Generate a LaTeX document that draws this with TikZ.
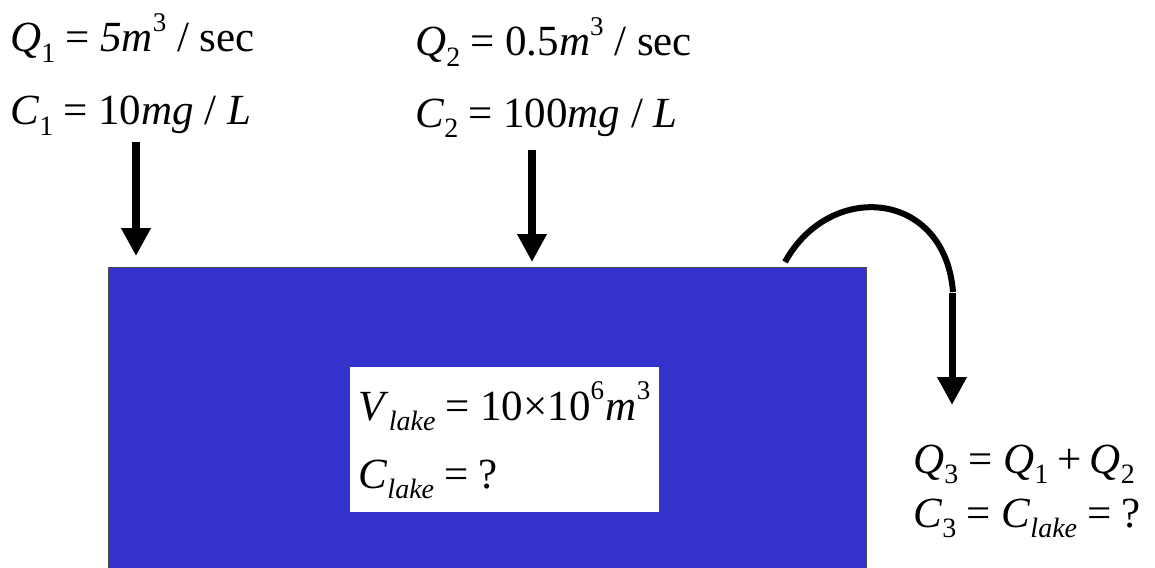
\documentclass[tikz,border=0pt]{standalone}
\usepackage{fontspec}
\setmainfont{Liberation Serif}
\usetikzlibrary{arrows.meta}
\definecolor{lakeblue}{RGB}{51,51,204}
\newcommand\sbs[1]{\raisebox{-0.24em}{\fontsize{14}{14}\selectfont #1}}
\newcommand\sps[1]{\raisebox{0.48em}{\fontsize{13.5}{14}\selectfont #1}}
\newcommand\iv[1]{\textit{#1}}
\newcommand\eqs{\hspace{0.24em}=\hspace{0.24em}}
\newcommand\pls{\hspace{0.2em}+\hspace{0.2em}}
\begin{document}
\begin{tikzpicture}[x=0.5pt,y=-0.5pt,
  lbl/.style={inner sep=0pt,anchor=base west,font=\fontsize{21.5}{24}\selectfont},
  flow/.style={line width=4pt,-{Triangle[length=14pt,width=14pt]}},
  pipe/.style={line width=3pt}]
\useasboundingbox (0,0) rectangle (1155,567);
% lake
\node[draw=black!70,line width=0.5pt,fill=lakeblue,inner sep=0pt,minimum width=379pt,minimum height=160pt,anchor=north west] (lake) at (108,267) {};
\node[fill=white,inner sep=0pt,minimum width=154.5pt,minimum height=72.5pt,anchor=north west] (box) at (350,367) {};
% labels
\node[lbl] (q1) at (10,52) {\iv{Q}\sbs{1}\eqs\iv{5m}\sps{3} / sec};
\node[lbl] (c1) at (10,125) {\iv{C}\sbs{1}\eqs 10\iv{mg} / \iv{L}};
\node[lbl] (q2) at (415,56) {\iv{Q}\sbs{2}\eqs 0.5\iv{m}\sps{3} / sec};
\node[lbl] (c2) at (415,127) {\iv{C}\sbs{2}\eqs 100\iv{mg} / \iv{L}};
\node[lbl] (vl) at (358,420) {\iv{V}\sbs{\iv{lake}}\eqs 10×10\sps{6}\hspace{0.04em}\iv{m}\sps{3}};
\node[lbl] (cl) at (358,488) {\iv{C}\sbs{\iv{lake}}\eqs ?};
\node[lbl] (q3) at (913,473) {\iv{Q}\sbs{3}\eqs\iv{Q}\sbs{1}\pls\iv{Q}\sbs{2}};
\node[lbl] (c3) at (913,527) {\iv{C}\sbs{3}\eqs\iv{C}\sbs{\iv{lake}}\eqs ?};
% arrows
\coordinate (a1s) at (136,142);
\coordinate (a1e) at (136,256);
\coordinate (a2s) at (532,150);
\coordinate (a2e) at (532,262);
\coordinate (ps) at (785,262);
\coordinate (pe) at (953,292);
\coordinate (a3s) at (952,293);
\coordinate (a3e) at (952,405);
\draw[flow] (a1s) -- (a1e);
\draw[flow] (a2s) -- (a2e);
\draw[pipe] (ps) .. controls (830,180) and (945,190) .. (pe);
\draw[flow,line width=3.5pt] (a3s) -- (a3e);
\end{tikzpicture}
\end{document}
